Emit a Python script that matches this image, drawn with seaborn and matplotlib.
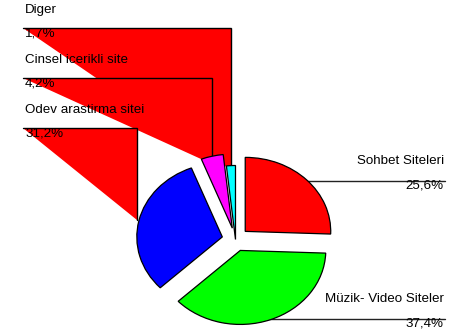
import matplotlib
matplotlib.use("Agg")
import matplotlib.pyplot as plt
import seaborn as sns

# Site categories, in clockwise order starting from 12 o'clock
categories = ["Sohbet Siteleri", "Müzik- Video Siteler", "Odev arastirma sitei",
              "Cinsel icerikli site", "Diger"]
shares = [25.6, 37.4, 31.2, 4.2, 1.7]
value_labels = ["25,6%", "37,4%", "31,2%", "4,2%", "1,7%"]
colors = ["#FF0000", "#00FF00", "#0000FF", "#FF00FF", "#00FFFF"]
explode = [0.158, 0.158, 0.158, 0.158, 0.0]

sns.set_theme(style="white")
plt.rcParams["font.family"] = ["Liberation Sans", "DejaVu Sans"]

W, H = 450, 335
fig = plt.figure(figsize=(W / 100, H / 100), dpi=100)
fig.patch.set_facecolor("white")

# Overlay in pixel units for the leader shapes and labels
ov = fig.add_axes([0, 0, 1, 1])
ov.set_xlim(0, W)
ov.set_ylim(H, 0)
ov.axis("off")

# Pie axes: elliptical pie (aspect left free)
cx, cy, rx, ry = 235.5, 239.5, 85.5, 74.0
pad = 1.3
axp = fig.add_axes([(cx - pad * rx) / W, (H - cy - pad * ry) / H,
                    2 * pad * rx / W, 2 * pad * ry / H])
wedges, _ = axp.pie(shares, colors=colors, explode=explode, startangle=90,
                    counterclock=False,
                    wedgeprops=dict(edgecolor="black", linewidth=0.9))
axp.set_aspect("auto")
axp.set_xlim(-pad, pad)
axp.set_ylim(-pad, pad)
axp.patch.set_alpha(0)
for w in wedges:
    w.set_clip_on(False)

fs = 9.6
# Left-hand callouts: (category index, line y, line end x, end y)
left_callouts = [(4, 28, 231, 170), (3, 78, 212, 164), (2, 128, 137, 220)]
x0 = 23
for idx, yl, xe, ye in left_callouts:
    ov.fill([x0, xe, xe], [yl, yl, ye], color="#FF0000", lw=0, zorder=1)
    ov.plot([x0, xe, xe], [yl, yl, ye], color="black", lw=1, zorder=2,
            solid_joinstyle="miter")
    ov.text(25, yl - 15, categories[idx], fontsize=fs, va="baseline",
            ha="left", color="black", zorder=3)
    ov.text(25, yl + 9, value_labels[idx], fontsize=fs, va="baseline",
            ha="left", color="black", zorder=3)

# Right-hand callouts: (category index, line y, line start x)
right_callouts = [(0, 181, 300), (1, 319, 265)]
for idx, yl, xs in right_callouts:
    ov.plot([xs, 445], [yl, yl], color="#222222", lw=1, zorder=2)
    ov.text(444, yl - 17, categories[idx], fontsize=fs, va="baseline",
            ha="right", color="black", zorder=3)
    ov.text(444, yl + 7, value_labels[idx], fontsize=fs, va="baseline",
            ha="right", color="black", zorder=3)

fig.savefig("out.png", dpi=100, facecolor="white")
